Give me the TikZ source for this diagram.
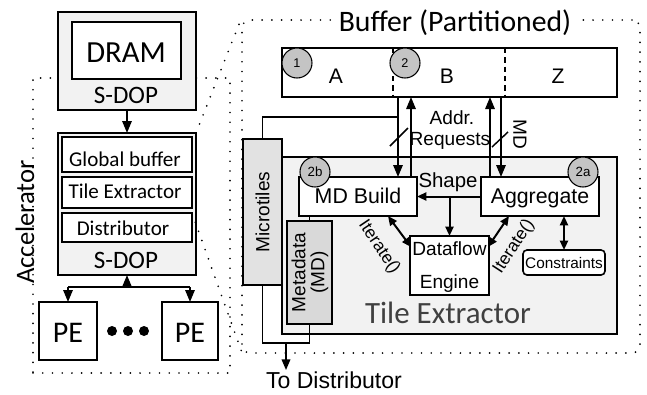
\documentclass[tikz,border=0pt]{standalone}
\usepackage{fontspec}
\setmainfont{Liberation Sans}
\newfontfamily\calfont{Carlito}
\usetikzlibrary{arrows.meta,calc}
\newcommand{\myfs}[1]{\fontsize{#1}{#1}\selectfont}
\definecolor{lightfill}{HTML}{F2F2F2}
\definecolor{midfill}{HTML}{E2E2E2}
\definecolor{metafill}{HTML}{D9D9D9}
\definecolor{circfill}{HTML}{C4C4C4}
\definecolor{titlegray}{HTML}{404040}
\begin{document}
\begin{tikzpicture}[x=0.75pt,y=-0.75pt,
  box/.style={draw,line width=1.5pt,inner sep=0pt,outer sep=0pt},
  txt/.style={inner sep=0pt,outer sep=0pt,anchor=base},
  rtxt/.style={inner sep=0pt,outer sep=0pt,anchor=center},
  dots/.style={line width=1.4pt,line cap=round,dash pattern=on 0pt off 7.3pt},
  thinline/.style={line width=1.1pt},
  arr/.style={line width=1.5pt,-{Triangle[length=9pt,width=7pt]}},
  darr/.style={line width=1.5pt,{Triangle[length=7pt,width=6pt]}-{Triangle[length=7pt,width=6pt]}},
  num/.style={circle,draw,line width=0.8pt,fill=circfill,minimum size=22.5pt,inner sep=0pt}
]
\useasboundingbox (0,0) rectangle (647,394);

% dotted regions
\node[dots,draw,minimum width=147.75pt,minimum height=221.25pt,inner sep=0pt] (accel) at (131.5,225.5) {};
\node[dots,draw,rounded corners=6pt,minimum width=298.5pt,minimum height=249.75pt,inner sep=0pt] (zoomarea) at (441,186.5) {};

% left side
\node[box,fill=lightfill,minimum width=103.5pt,minimum height=73.5pt] (sdop1) at (127,61) {};
\node[box,fill=white,minimum width=81.75pt,minimum height=42.75pt] (dram) at (126.5,50.5) {};
\node[box,fill=lightfill,minimum width=103.5pt,minimum height=106.5pt] (sdop2) at (127,204) {};
\node[box,fill=white,minimum width=97.5pt,minimum height=26.25pt] (gbuf) at (127,154.5) {};
\node[box,fill=white,minimum width=97.5pt,minimum height=23.25pt] (tex) at (127,192.5) {};
\node[box,fill=white,minimum width=97.5pt,minimum height=21.75pt] (dist) at (127,227.5) {};
\node[box,fill=white,minimum width=43.5pt,minimum height=43.5pt] (pe1) at (68,331) {};
\node[box,fill=white,minimum width=42pt,minimum height=43.5pt] (pe2) at (190,331) {};

\node[txt,font=\calfont\myfs{23}] (tdram) at (126,62) {DRAM};
\node[txt,font=\calfont\myfs{18.8}] (tsdop1) at (126,103) {S-DOP};
\node[txt,font=\calfont\myfs{15.8}] (tgbuf) at (125,166) {Global buffer};
\node[txt,font=\calfont\myfs{15.8}] (ttex) at (125,198) {Tile Extractor};
\node[txt,font=\calfont\myfs{15.8}] (tdist) at (123,235) {Distributor};
\node[txt,font=\calfont\myfs{18.8}] (tsdop2) at (126,268) {S-DOP};
\node[txt,font=\calfont\myfs{22.5}] (tpe1) at (68,342) {PE};
\node[txt,font=\calfont\myfs{22.5}] (tpe2) at (190,342) {PE};
\node[rtxt,rotate=90,font=\calfont\myfs{20}] (taccel) at (25,222) {Accelerator};
\foreach \xx [count=\i] in {112,128,144}
  \node[circle,fill=black,minimum size=7.5pt,inner sep=0pt] (dot\i) at (\xx,331) {};

% left arrows
\draw[arr] (sdop1.south) -- (sdop2.north);
\coordinate (bar) at (0,287);
\draw[line width=2.2pt] (pe1.north |- bar) -- (pe2.north |- bar);
\draw[arr] (pe1.north |- bar) -- (pe1.north);
\draw[arr] (pe2.north |- bar) -- (pe2.north);
\draw[arr] (sdop2.south |- bar) -- (sdop2.south);

% zoom lines
\draw[dots] (sdop2.north east) -- (zoomarea.north west);
\draw[dots] (dist.north east) -- ($(zoomarea.south west)+(1,-1)$);

% title
\node[txt,fill=white,inner xsep=5pt,inner ysep=0pt,font=\calfont\myfs{22.3}] (title) at (455,31) {Buffer (Partitioned)};

% buffer
\node[box,minimum width=251.25pt,minimum height=36.75pt] (buf) at (449.5,72.5) {};
\draw[line width=1.5pt,dash pattern=on 4pt off 3pt] (buf.north -| 393,0) -- (buf.south -| 393,0);
\draw[line width=1.5pt,dash pattern=on 4pt off 3pt] (buf.north -| 505,0) -- (buf.south -| 505,0);
\node[num] (n1) at (297,63) {\myfs{9.5}1};
\node[num] (n2) at (405,63) {\myfs{9.5}2};
\node[txt,font=\myfs{15.8}] (ta) at (336,83) {A};
\node[txt,font=\myfs{15.8}] (tb) at (447,83) {B};
\node[txt,font=\myfs{15.8}] (tz) at (558,83) {Z};

% tile extractor
\node[box,fill=lightfill,minimum width=251.25pt,minimum height=132.75pt] (te) at (449.5,245.5) {};
\node[txt,font=\calfont\myfs{23.2},text=titlegray] (tte) at (448,323) {Tile Extractor};
\node[box,line width=1.3pt,fill=midfill,minimum width=29.25pt,minimum height=109.5pt] (micro) at (262.5,212) {};
\node[rtxt,rotate=90,font=\myfs{14.3}] (tmicro) at (262.5,212) {Microtiles};
\node[box,line width=1.3pt,fill=metafill,minimum width=33.75pt,minimum height=77.25pt] (meta) at (309.5,272.5) {};
\node[rtxt,rotate=90,font=\myfs{14.3},align=center] (tmeta) at (310,272.5) {Metadata\\(MD)};
\node[box,fill=white,minimum width=88.5pt,minimum height=29.25pt] (mdb) at (358,196.5) {};
\node[box,fill=white,minimum width=88.5pt,minimum height=29.25pt] (agg) at (540,196.5) {};
\node[box,fill=white,minimum width=59.25pt,minimum height=44.25pt] (dfe) at (449.5,265.5) {};
\node[box,line width=1.2pt,rounded corners=3pt,fill=white,minimum width=61.5pt,minimum height=18.75pt] (cons) at (564,262.5) {};
\node[txt,font=\myfs{16}] (tmdb) at (358,203) {MD Build};
\node[txt,font=\myfs{16}] (tagg) at (540,203) {Aggregate};
\node[txt,font=\myfs{14.3}] (tdf1) at (449.5,255) {Dataflow};
\node[txt,font=\myfs{14.3}] (tdf2) at (449.5,288) {Engine};
\node[txt,font=\myfs{11.5}] (tcons) at (564,268) {Constraints};
\node[num] (n2b) at (315,172) {\myfs{10}2b};
\node[num] (n2a) at (583,172) {\myfs{10}2a};

% buffer <-> boxes
\coordinate (xa) at (398,0);
\coordinate (xb) at (411,0);
\coordinate (xc) at (490,0);
\coordinate (xd) at (501,0);
\coordinate (j1) at (398,117);
\draw[thinline] (j1) -| (micro.north);
\draw[arr] (buf.south -| xa) -- (mdb.north -| xa);
\draw[arr] (mdb.north -| xb) -- (buf.south -| xb);
\draw[arr] (agg.north -| xc) -- (buf.south -| xc);
\draw[arr] (buf.south -| xd) -- (agg.north -| xd);
\draw[line width=1.1pt] (390,146) -- (408,128);
\draw[line width=1.1pt] (492,147) -- (508,132);
\node[txt,font=\myfs{14.3}] (taddr) at (452,124) {Addr.};
\node[txt,font=\myfs{14.3}] (treq) at (450,145) {Requests};
\node[rtxt,rotate=-90,font=\myfs{14.3}] (tmd) at (520,134) {MD};

% inner arrows
\draw[line width=1.5pt,-{Triangle[length=7pt,width=6pt]}] (agg.west) -- (mdb.east);
\draw[line width=1.5pt,-{Triangle[length=7pt,width=6pt]}] (agg.west -| dfe.north) -- (dfe.north);
\node[txt,font=\myfs{15.3}] (tshape) at (448,187) {Shape};
\draw[darr] ($(mdb.south)+(30,0)$) -- ($(dfe.west)+(1,-18.5)$);
\draw[darr] ($(agg.south)+(-31,0)$) -- ($(dfe.east)+(-1,-18.5)$);
\draw[darr] (agg.south -| cons.north) -- (cons.north);
\node[rtxt,rotate=-56,font=\myfs{13}] (tit1) at (379,247) {Iterate()};
\node[rtxt,rotate=57,font=\myfs{13}] (tit2) at (514,247) {Iterate()};

% outputs
\draw[thinline] (mdb.south -| meta.north) -- (meta.north);
\coordinate (j2) at (262.5,343);
\coordinate (j3) at (286,343);
\coordinate (j4) at (286,370);
\draw[thinline] (micro.south) -- (j2) -| (meta.south);
\draw[line width=1.1pt,-{Triangle[length=8pt,width=6.5pt]}] (j3) -- (j4);
\node[txt,font=\myfs{17.3}] (tdistr) at (334,388) {To Distributor};
\end{tikzpicture}
\end{document}
